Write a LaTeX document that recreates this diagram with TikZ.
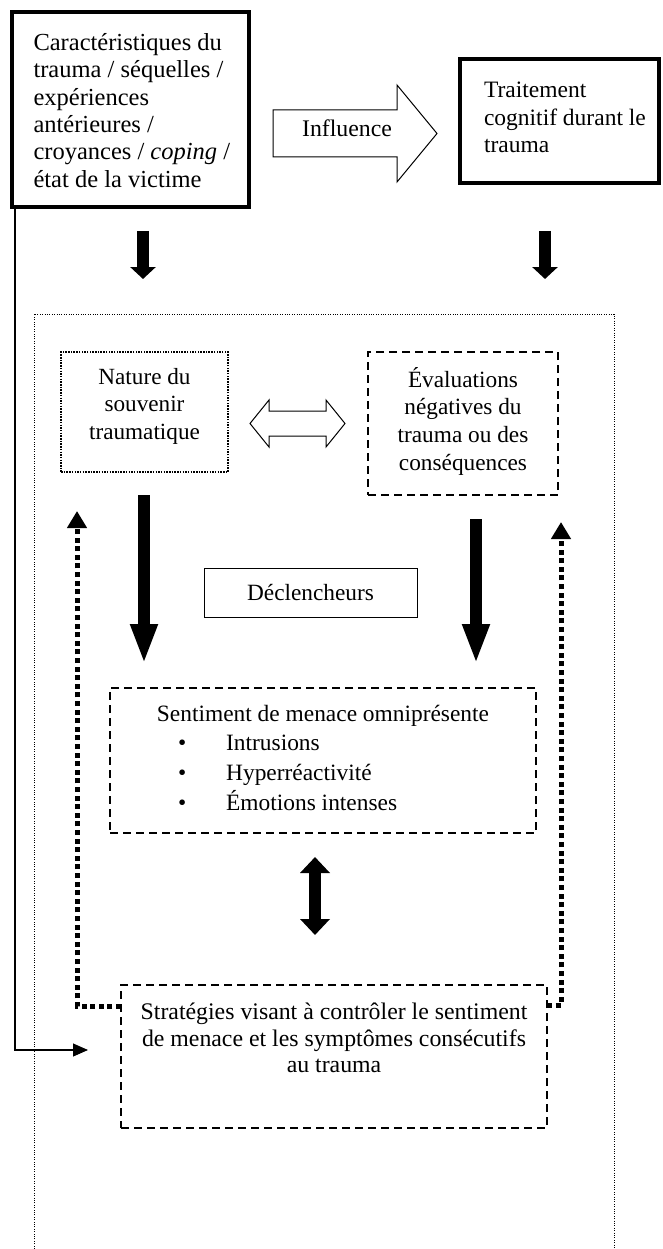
\documentclass[tikz,border=0pt]{standalone}
\usepackage{fontspec}
\setmainfont{Liberation Serif}
\usetikzlibrary{arrows.meta}
\newcommand{\fs}[2]{\fontsize{#1}{#2}\selectfont}
\begin{document}
\begin{tikzpicture}[x=1pt,y=-1pt,
  every node/.style={inner sep=0pt,outer sep=0pt},
  heavybox/.style={draw,line width=3.5pt},
  dashbox/.style={draw,line width=1.4pt,dash pattern=on 8pt off 5pt},
  dotbox/.style={draw,line width=1.5pt,dash pattern=on 1.5pt off 1.2pt},
  plainbox/.style={draw,line width=1pt},
  framedots/.style={line width=0.9pt,dash pattern=on 1pt off 1.4pt},
  fatshort/.style={line width=12pt,-{Triangle[width=25pt,length=12pt]}},
  fatlong/.style={line width=12pt,-{Triangle[width=25pt,length=40pt]}},
  fatboth/.style={line width=12pt,{Triangle[width=29pt,length=16pt]}-{Triangle[width=29pt,length=16pt]}},
  backloop/.style={line width=5pt,dash pattern=on 5pt off 3.6pt,-{Triangle[width=19pt,length=17pt]}},
  hollow/.style={draw,line width=1pt,line join=miter},
  feed/.style={line width=1.1pt,-{Triangle[width=13pt,length=15pt]}}
]
\useasboundingbox (0,0) rectangle (662,1249);

% top boxes
\node[heavybox,minimum width=237pt,minimum height=195pt] (A) at (130.5,109.5)
  {\parbox[c][152pt][t]{194pt}{\fs{24.5}{27.3}\raggedright
   \mbox{Caractéristiques du}\\
   \mbox{trauma / séquelles /}\\
   \mbox{expériences}\\
   \mbox{antérieures /}\\
   \mbox{croyances / \textit{coping} /}\\
   \mbox{état de la victime}}};
\node[heavybox,minimum width=199pt,minimum height=124pt] (B) at (559.5,121)
  {\parbox[c][78pt][t]{151pt}{\fs{23.5}{27.7}\raggedright
   \mbox{Traitement}\\
   \mbox{cognitif durant le}\\
   \mbox{trauma}}};

% hollow "Influence" arrow
\draw[hollow] (273,110) -- (397,110) -- (397,85) -- (437,133.5) -- (397,182)
  -- (397,157) -- (273,157) -- cycle;
\node[anchor=base,font=\fs{23.8}{28}] (infl) at (347,137) {Influence};

% arrows into the frame
\coordinate (a1) at (143,231); \coordinate (a2) at (143,279);
\coordinate (b1) at (545,231); \coordinate (b2) at (545,279);
\draw[fatshort] (a1) -- (a2);
\draw[fatshort] (b1) -- (b2);

% dotted frame
\draw[framedots] (34,1249) -- (34,314) -- (614,314) -- (614,1249);

% inner boxes
\node[dotbox,minimum width=167pt,minimum height=120pt] (N) at (144.5,412)
  {\parbox[c][88pt][t]{160pt}{\fs{23.2}{27.5}\centering
   Nature du\\ souvenir\\ traumatique}};
\node[dashbox,minimum width=190pt,minimum height=143pt] (E) at (463,423.5)
  {\parbox[c][113pt][t]{180pt}{\fs{23.3}{27.7}\centering
   Évaluations\\ négatives du\\ trauma ou des\\ conséquences}};

% hollow double arrow between them
\draw[hollow] (250,423.5) -- (269,400) -- (269,411) -- (326,411) -- (326,400)
  -- (345,423.5) -- (326,447) -- (326,436) -- (269,436) -- (269,447) -- cycle;

\node[plainbox,minimum width=213pt,minimum height=49pt,font=\fs{23.3}{28}] (D)
  at (310.5,592.5) {Déclencheurs};

\coordinate (c1) at (144,495); \coordinate (c2) at (144,664);
\coordinate (d1) at (476,519); \coordinate (d2) at (476,664);
\draw[fatlong] (c1) -- (c2);
\draw[fatlong] (d1) -- (d2);

\node[dashbox,minimum width=426pt,minimum height=145pt] (S) at (323,760.5)
  {\parbox[c][111pt][t]{400pt}{\fs{23.4}{29.6}\centering
   Sentiment de menace omniprésente\\
   \makebox[400pt][l]{\hspace{55pt}\textbullet\hspace{40pt}Intrusions}\\
   \makebox[400pt][l]{\hspace{55pt}\textbullet\hspace{40pt}Hyperréactivité}\\
   \makebox[400pt][l]{\hspace{55pt}\textbullet\hspace{40pt}Émotions intenses}}};

\coordinate (e1) at (315,857); \coordinate (e2) at (315,935);
\draw[fatboth] (e1) -- (e2);

\node[dashbox,minimum width=426pt,minimum height=143pt] (T) at (334,1056.5)
  {\parbox[c][107pt][t]{410pt}{\fs{23.8}{26.5}\centering
   Stratégies visant à contrôler le sentiment\\
   de menace et les symptômes consécutifs\\
   au trauma}};

% feedback loops
\coordinate (L1) at (77,1006); \coordinate (L2) at (77,511);
\coordinate (R1) at (561,1005); \coordinate (R2) at (561,522);
\draw[backloop] (T.west |- L1) -- (L1) -- (L2);
\draw[backloop] (T.east |- R1) -- (R1) -- (R2);

% long line from the first box
\coordinate (F1) at (15,1050); \coordinate (F2) at (88,1050);
\draw[feed] (A.south west -| F1) -- (F1) -- (F2);
\end{tikzpicture}
\end{document}
